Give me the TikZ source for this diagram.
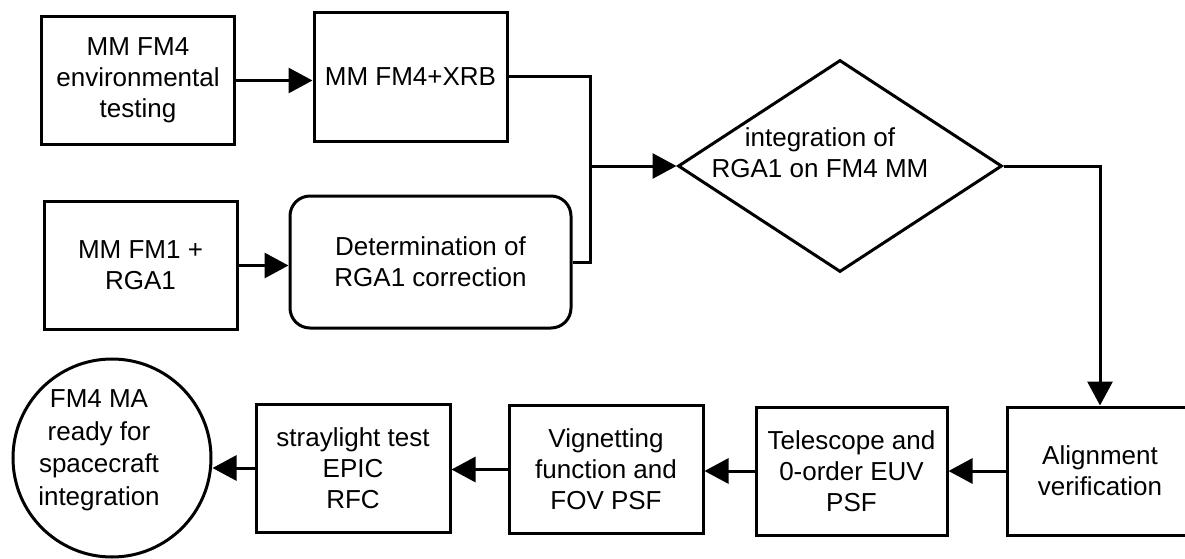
\documentclass[tikz,border=0pt]{standalone}
\usepackage{fontspec}
\setmainfont{Liberation Sans}
\usetikzlibrary{shapes.geometric,arrows.meta}

\begin{document}
\begin{tikzpicture}[x=1pt,y=-1pt,line width=3pt,
  every node/.style={font=\fontsize{26}{31}\selectfont},
  box/.style={draw,rectangle,minimum width=193pt,minimum height=128pt,align=center,inner sep=0pt},
  arr/.style={-{Triangle[length=24pt,width=25pt]}}]
\useasboundingbox (0,0) rectangle (1185,559);
\node[box] (1) at (138,80.5) {MM FM4\\environmental\\testing};
\node[box] (2) at (410.5,77) {MM FM4+XRB};
\node[box] (3) at (140.5,265.5) {MM FM1 +\\RGA1};
\node[box,rounded corners=20pt,minimum width=281pt,minimum height=132pt] (4) at (430.5,262) {Determination of\\RGA1 correction};
\node[draw,diamond,minimum width=324pt,minimum height=212pt,inner sep=0pt] (5) at (840,166) {};
\node[align=center] (5t) at (820,153) {integration of\\RGA1 on FM4 MM};
\node[box,minimum width=186pt] (6) at (1100,471) {Alignment\\verification};
\node[box,minimum width=191pt] (7) at (851.5,471) {Telescope and\\0-order EUV\\PSF};
\node[box,minimum width=194pt] (8) at (606,469.5) {Vignetting\\function and\\FOV PSF};
\node[box,minimum width=194pt] (9) at (353,468) {straylight test\\EPIC\\RFC};
\node[draw,circle,minimum size=198pt,inner sep=0pt] (10) at (112,458) {};
\node[align=center,font=\fontsize{26}{32.5}\selectfont] (10t) at (99,450) {FM4 MA\\ready for\\spacecraft\\integration};
\coordinate (j) at (590,166);

\path[draw,arr] (1.east) -- (1.east -| 2.west);
\path[draw,arr] (3.east) -- (3.east -| 4.west);
\path[draw] (2.east) -| (j) |- (4.east);
\path[draw,arr] (j) -- (5.west);
\path[draw,arr] (5.east) -| (6.north);
\path[draw,arr] (6.west) -- (6.west -| 7.east);
\path[draw,arr] (7.west) -- (7.west -| 8.east);
\path[draw,arr] (8.west) -- (8.west -| 9.east);
\path[draw,arr] (9.west) -- (9.west -| 10.east);
\end{tikzpicture}
\end{document}
